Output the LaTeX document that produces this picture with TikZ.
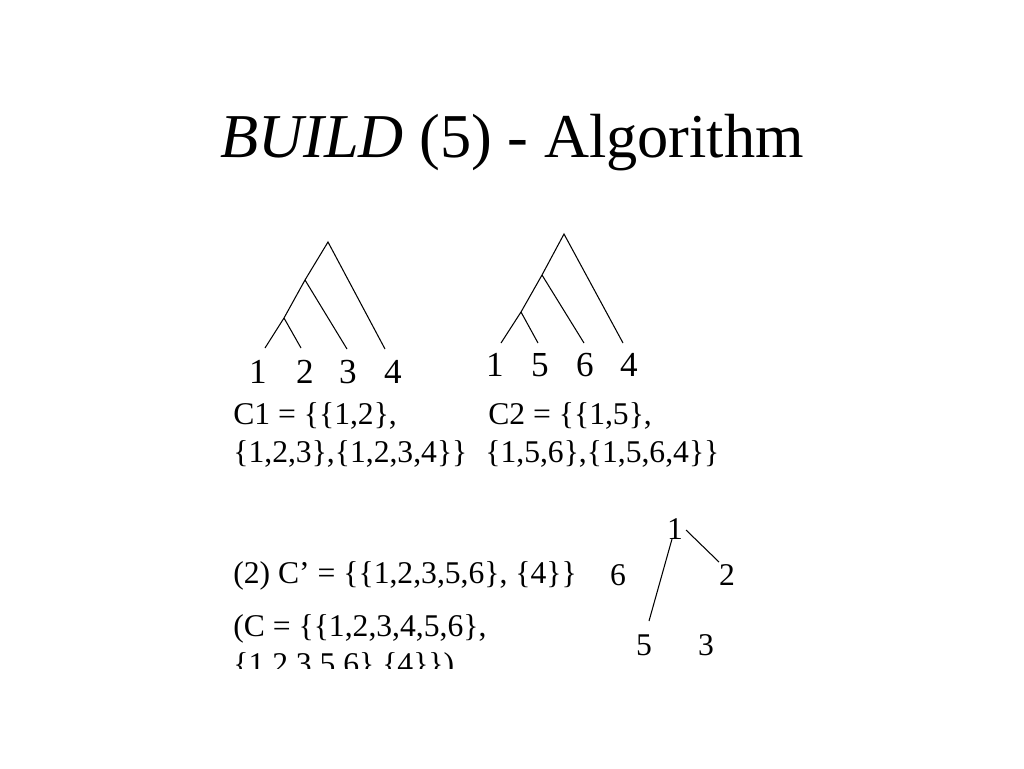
\documentclass[tikz,border=0pt]{standalone}
\usepackage{fontspec}
\setmainfont{Liberation Serif}
\tikzset{
  lev/.style={inner sep=0pt,font=\fontsize{18}{21}\selectfont},
  nagylev/.style={inner sep=0pt,font=\fontsize{20}{23}\selectfont},
  szov/.style={anchor=base west,inner sep=0pt,font=\fontsize{18}{21}\selectfont},
  ag/.style={line width=0.6pt},
}

\begin{document}
\begin{tikzpicture}[x=0.02cm,y=-0.02cm]
  \useasboundingbox (0,0) rectangle (1024,768);
  \node[anchor=base,inner sep=0pt] (cim) at (512,157)
    {\fontsize{35.5}{40}\selectfont\textit{BUILD} (5) - Algorithm};
  % C1
  \coordinate (r1) at (328,242); \coordinate (u1) at (305,280); \coordinate (v1) at (284,318);
  \coordinate (t11) at (265,348); \coordinate (t12) at (301,348);
  \coordinate (t13) at (347,349); \coordinate (t14) at (385,349);
  \draw[ag] (t11) -- (v1) -- (u1) -- (r1) -- (t14);
  \draw[ag] (v1) -- (t12); \draw[ag] (u1) -- (t13);
  \node[nagylev] (l11) at (258,372) {1}; \node[nagylev] (l12) at (305,372) {2};
  \node[nagylev] (l13) at (348,372) {3}; \node[nagylev] (l14) at (393,372) {4};
  % C2
  \coordinate (r2) at (564,234); \coordinate (u2) at (542,275); \coordinate (v2) at (521,312);
  \coordinate (t21) at (501,343); \coordinate (t22) at (538,343);
  \coordinate (t23) at (584,343); \coordinate (t24) at (623,343);
  \draw[ag] (t21) -- (v2) -- (u2) -- (r2) -- (t24);
  \draw[ag] (v2) -- (t22); \draw[ag] (u2) -- (t23);
  \node[nagylev] (l21) at (495,365) {1}; \node[nagylev] (l22) at (540,365) {5};
  \node[nagylev] (l23) at (585,365) {6}; \node[nagylev] (l24) at (629,365) {4};
  \node[szov] (c1a) at (233,424) {C1 = \{\{1,2\},};
  \node[szov] (c1b) at (233,462) {\{1,2,3\},\{1,2,3,4\}\}};
  \node[szov] (c2a) at (488,424) {C2 = \{\{1,5\},};
  \node[szov] (c2b) at (485,462) {\{1,5,6\},\{1,5,6,4\}\}};
  % (2)
  \node[szov] (ca) at (233,583) {(2) C’ = \{\{1,2,3,5,6\}, \{4\}\}};
  \node[lev] (g6) at (618,575) {6};
  \node[lev] (g1) at (675,529) {1};
  \node[lev] (g2) at (727,575) {2};
  \node[lev] (g5) at (644,645) {5};
  \node[lev] (g3) at (706,645) {3};
  \coordinate (e1) at (686,530); \coordinate (e2) at (719,562);
  \coordinate (f1) at (672,539); \coordinate (f2) at (649,621);
  \draw[ag] (e1) -- (e2); \draw[ag] (f1) -- (f2);
  \begin{scope}
    \clip (0,0) rectangle (1024,668);
    \node[szov] (cb) at (233,636) {(C = \{\{1,2,3,4,5,6\},};
    \node[szov] (cc) at (233,674) {\{1,2,3,5,6\},\{4\}\})};
  \end{scope}
\end{tikzpicture}
\end{document}
